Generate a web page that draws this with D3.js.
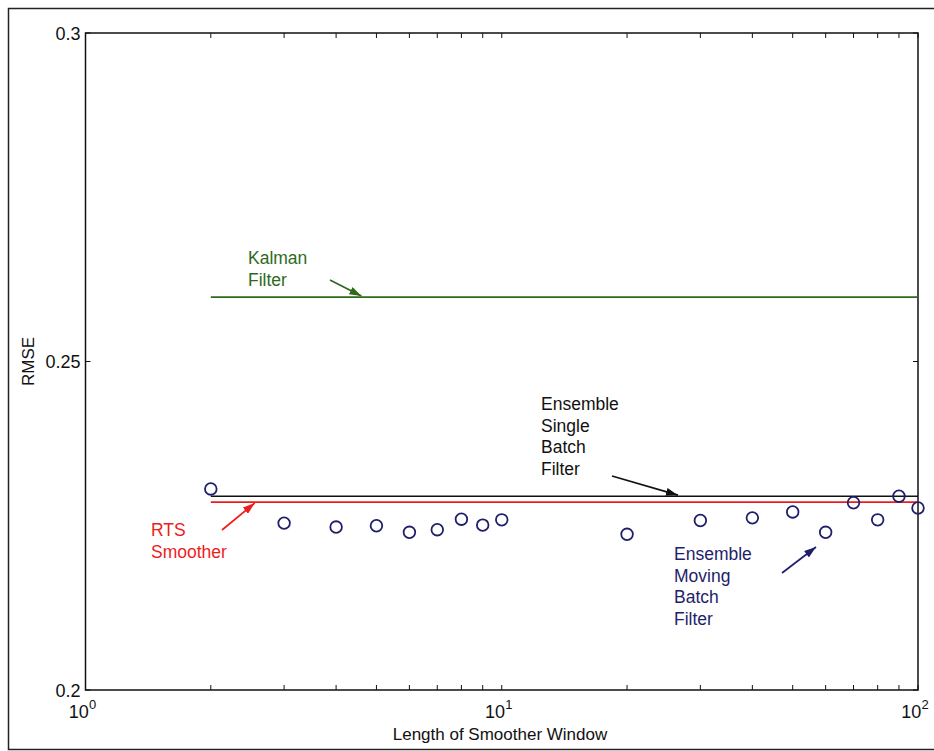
<!DOCTYPE html>
<html>
<head>
<meta charset="utf-8">
<script src="https://cdn.jsdelivr.net/npm/d3@7"></script>
<style>
  body { margin: 0; background: #fff; }
  text { font-family: "Liberation Sans", Arial, Helvetica, sans-serif; }
</style>
</head>
<body>
<script>
'use strict';

// window lengths and RMSE of the ensemble moving batch filter
var windowLengths = [2, 3, 4, 5, 6, 7, 8, 9, 10, 20, 30, 40, 50, 60, 70, 80, 90, 100];
var movingBatchRmse = [0.2306, 0.2254, 0.2248, 0.2250, 0.2240, 0.2244, 0.2260, 0.2251, 0.2259,
  0.2237, 0.2258, 0.2262, 0.2271, 0.2240, 0.2285, 0.2259, 0.2295, 0.2277];

// constant reference lines [from, to, rmse]
var kalmanLine = [2, 100, 0.2598];
var singleBatchLine = [2, 100, 0.2295];
var rtsLine = [2, 100, 0.2286];

var yTickValues = [0.2, 0.25, 0.3];
var xTickValues = [1, 10, 100];

var width = 934;
var height = 751;
var margin = { left: 85.5, right: 16, top: 33, bottom: 61 };

var x = d3.scaleLog().domain([1, 100]).range([margin.left, width - margin.right]);
var y = d3.scaleLinear().domain([0.2, 0.3]).range([height - margin.bottom, margin.top]);

var green = '#2f6a1c';
var red = '#ee1c1c';
var navy = '#1e1e6a';

var svg = d3.select('body').append('svg')
  .attr('width', width)
  .attr('height', height);

// outer frame
svg.append('rect')
  .attr('x', 8.5).attr('y', 8.5)
  .attr('width', width + 10).attr('height', height - 10)
  .attr('fill', 'none').attr('stroke', '#222').attr('stroke-width', 1.5);

var x0 = x.range()[0], x1 = x.range()[1];
var y0 = y.range()[0], y1 = y.range()[1];

// minor + major ticks on all four sides, pointing inward
var allXTicks = [];
[1, 10].forEach(function(dec) {
  for (var i = 1; i <= 9; i++) allXTicks.push(dec * i);
});
allXTicks.push(100);

var tickLen = 5;
var ticks = svg.append('g').attr('stroke', '#111').attr('stroke-width', 1);
allXTicks.forEach(function(v) {
  ticks.append('line').attr('x1', x(v)).attr('x2', x(v)).attr('y1', y0).attr('y2', y0 - tickLen);
  ticks.append('line').attr('x1', x(v)).attr('x2', x(v)).attr('y1', y1).attr('y2', y1 + tickLen);
});
yTickValues.forEach(function(v) {
  ticks.append('line').attr('x1', x0).attr('x2', x0 + tickLen).attr('y1', y(v)).attr('y2', y(v));
  ticks.append('line').attr('x1', x1).attr('x2', x1 - tickLen).attr('y1', y(v)).attr('y2', y(v));
});

// plot box
svg.append('rect')
  .attr('x', x0).attr('y', y1)
  .attr('width', x1 - x0).attr('height', y0 - y1)
  .attr('fill', 'none').attr('stroke', '#111').attr('stroke-width', 1.5);

// tick labels
svg.selectAll('.ylab').data(yTickValues).enter().append('text')
  .attr('x', x0 - 5).attr('y', function(d) { return y(d) + 6.5; })
  .attr('text-anchor', 'end').attr('font-size', 18).attr('fill', '#111')
  .text(function(d) { return d3.format('')(d); });

var xl = svg.selectAll('.xlab').data(xTickValues).enter().append('text')
  .attr('x', function(d) { return x(d) - 3; }).attr('y', y0 + 28)
  .attr('text-anchor', 'middle').attr('font-size', 18).attr('fill', '#111');
xl.append('tspan').text('10');
xl.append('tspan').attr('font-size', 13).attr('dy', -9)
  .text(function(d) { return Math.round(Math.log10(d)); });

// axis titles
svg.append('text')
  .attr('transform', 'translate(34,' + y(0.25) + ') rotate(-90)')
  .attr('text-anchor', 'middle').attr('font-size', 17).attr('fill', '#111')
  .text('RMSE');
svg.append('text')
  .attr('x', 500).attr('y', 740)
  .attr('text-anchor', 'middle').attr('font-size', 17).attr('fill', '#111')
  .text('Length of Smoother Window');

// reference lines
function hline(d, color) {
  svg.append('line')
    .attr('x1', x(d[0])).attr('x2', x(d[1]))
    .attr('y1', y(d[2])).attr('y2', y(d[2]))
    .attr('stroke', color).attr('stroke-width', 1.6);
}
hline(kalmanLine, green);
hline(singleBatchLine, '#111');
hline(rtsLine, red);

// moving batch circles
svg.selectAll('circle')
  .data(windowLengths.map(function(w, i) { return [w, movingBatchRmse[i]]; }))
  .enter().append('circle')
  .attr('cx', function(d) { return x(d[0]); })
  .attr('cy', function(d) { return y(d[1]); })
  .attr('r', 5.8)
  .attr('fill', 'none').attr('stroke', navy).attr('stroke-width', 1.8);

// annotations
var defs = svg.append('defs');
function marker(id, color) {
  defs.append('marker')
    .attr('id', id).attr('viewBox', '0 0 12 8')
    .attr('refX', 12).attr('refY', 4)
    .attr('markerWidth', 12).attr('markerHeight', 8)
    .attr('markerUnits', 'userSpaceOnUse')
    .attr('orient', 'auto')
    .append('path').attr('d', 'M0,0 L12,4 L0,8 z').attr('fill', color);
}
marker('a-green', green);
marker('a-black', '#111');
marker('a-red', red);
marker('a-navy', navy);

function label(lines, lx, ly, color) {
  var t = svg.append('text').attr('font-size', 17.5).attr('fill', color);
  lines.forEach(function(s, i) {
    t.append('tspan').attr('x', lx).attr('y', ly + i * 21.6).text(s);
  });
}
function arrow(xa, ya, xb, yb, id, color) {
  svg.append('line')
    .attr('x1', xa).attr('y1', ya).attr('x2', xb).attr('y2', yb)
    .attr('stroke', color).attr('stroke-width', 1.7)
    .attr('marker-end', 'url(#' + id + ')');
}

label(['Kalman', 'Filter'], 248, 264, green);
arrow(330, 280, x(4.6), y(kalmanLine[2]) - 1, 'a-green', green);

label(['Ensemble', 'Single', 'Batch', 'Filter'], 541, 410, '#111');
arrow(612, 476, x(26.5), y(singleBatchLine[2]) - 1, 'a-black', '#111');

label(['RTS', 'Smoother'], 151, 536, red);
arrow(222, 530, x(2.55), y(rtsLine[2]) + 1, 'a-red', red);

label(['Ensemble', 'Moving', 'Batch', 'Filter'], 674, 560, navy);
arrow(782, 573, 816, 547, 'a-navy', navy);
</script>
</body>
</html>
